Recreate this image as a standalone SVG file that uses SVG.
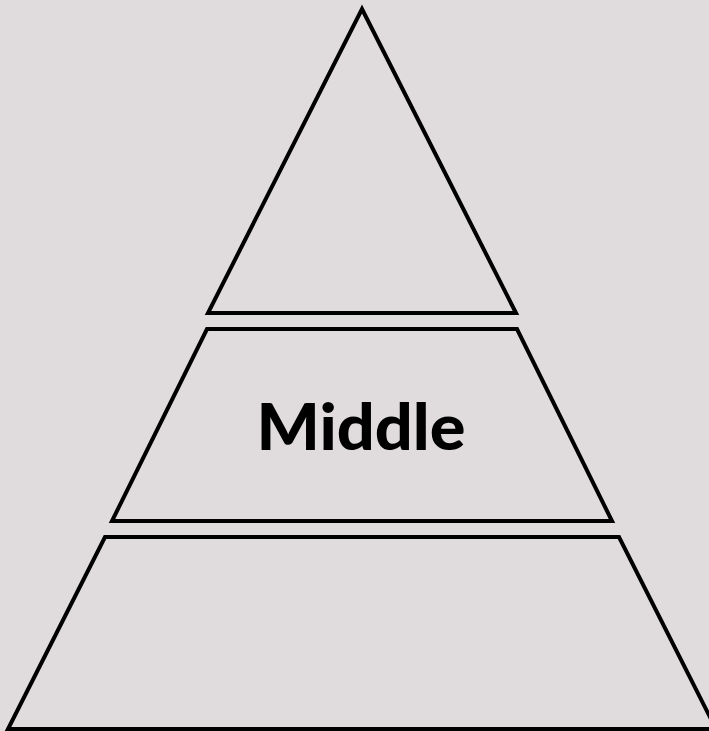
<svg xmlns="http://www.w3.org/2000/svg" width="709" height="731" viewBox="0 0 709 731">
<style>
.tier{fill:#e0dcdd;stroke:#000;stroke-width:4;stroke-linejoin:miter}
.lbl{font-family:Lato,"Liberation Sans",sans-serif;font-weight:900;font-size:64px;fill:#000;text-anchor:middle}
</style>
<rect width="709" height="731" fill="#e0dcdd"/>
<g id="top"><polygon class="tier" points="362,9 516,313 208,313"/></g>
<g id="middle"><polygon class="tier" points="207,329 517,329 612,521 112,521"/>
<text class="lbl" x="361" y="450" textLength="209" lengthAdjust="spacingAndGlyphs">Middle</text></g>
<g id="bottom"><polygon class="tier" points="105,537 619,537 716,729 8,729"/></g>
<g id="connectors"/>
</svg>
